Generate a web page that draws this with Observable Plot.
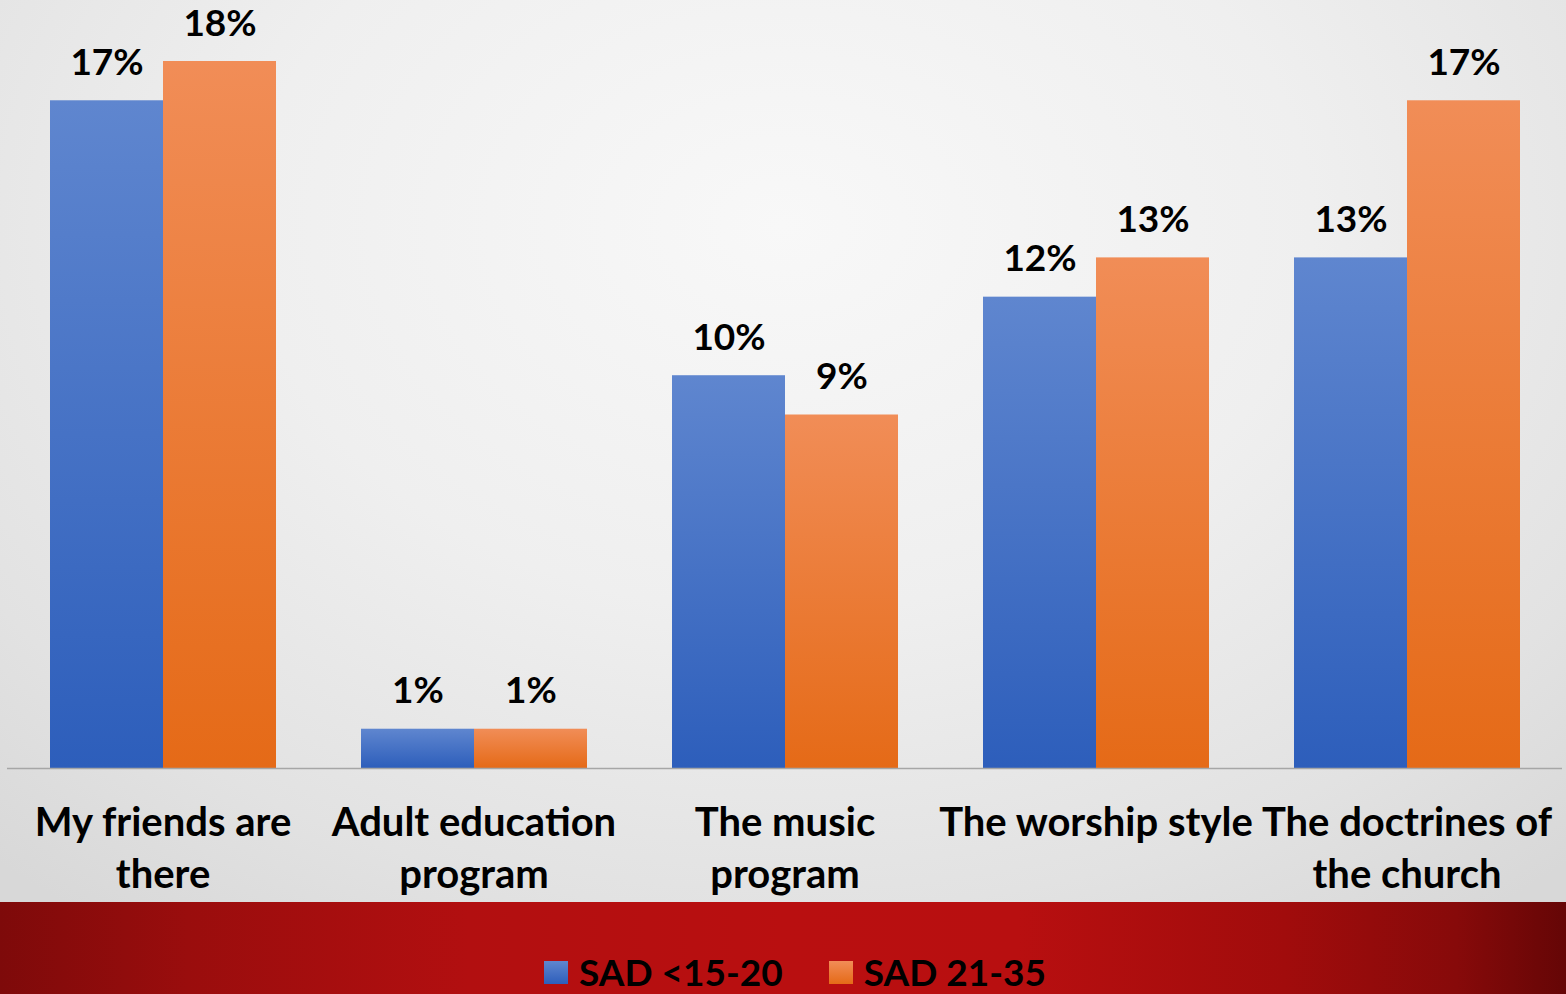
<!DOCTYPE html>
<html><head><meta charset="utf-8">
<script src="https://cdn.jsdelivr.net/npm/d3@7"></script>
<script src="https://cdn.jsdelivr.net/npm/@observablehq/plot@0.6"></script>
<style>
html,body{margin:0;padding:0;width:1566px;height:994px;overflow:hidden;font-family:Lato,"Noto Sans",sans-serif;}
#chart{width:1566px;height:902px;background:radial-gradient(ellipse 75% 95% at 50% 25%, #f8f8f8 0%, #efefef 45%, #e2e2e2 80%, #d8d8d8 100%);}
#band{width:1566px;height:92px;position:relative;background:linear-gradient(to right,#7e0a0a 0%,#9a0d0d 12%,#b20f10 30%,#b90f10 50%,#b80f10 65%,#a10c0c 82%,#870a0a 93%,#650606 100%);}
#legend{position:absolute;left:544px;top:50px;display:flex;align-items:center;font-weight:bold;font-size:37px;color:#000;line-height:40px;}
.item{display:flex;align-items:center;margin-right:46px;}
.sw{width:24px;height:23px;margin-right:11px;}
</style>
</head><body>
<div id="chart"></div>
<div id="band"><div id="legend"></div></div>
<script>
const categories = ["My friends are\nthere", "Adult education\nprogram", "The music\nprogram", "The worship style", "The doctrines of\nthe church"];
const series = ["SAD <15-20", "SAD 21-35"];
const valuesYoung = [17, 1, 10, 12, 13];
const valuesOld = [18, 1, 9, 13, 17];

const gradients = [
  ["gBlue", "#5f86cf", "#2d5ebb"],
  ["gOrange", "#f18d57", "#e56a17"]
];

const data = categories.flatMap((c, i) => [
  {category: c, series: series[0], value: valuesYoung[i]},
  {category: c, series: series[1], value: valuesOld[i]}
]);

const plot = Plot.plot({
  width: 1566,
  height: 902,
  marginLeft: 6,
  marginRight: 4,
  marginTop: 61,
  marginBottom: 134,
  style: {background: "transparent", fontFamily: "Lato, 'Noto Sans', sans-serif", fontWeight: "bold", fontSize: "36px", color: "#000", overflow: "visible"},
  fx: {domain: categories, padding: 0, label: null},
  x: {domain: series, paddingInner: 0, paddingOuter: 0.37, axis: null},
  y: {domain: [0, 18], axis: null},
  marks: [
    Plot.barY(data.filter(d => d.series === series[0]), {fx: "category", x: "series", y: "value", fill: "url(#gBlue)"}),
    Plot.barY(data.filter(d => d.series === series[1]), {fx: "category", x: "series", y: "value", fill: "url(#gOrange)"}),
    Plot.ruleY([0], {stroke: "#a6a6a6", strokeWidth: 1.5}),
    Plot.text(data, {fx: "category", x: "series", y: "value", text: d => d.value + "%", lineAnchor: "bottom", dy: -26, fontSize: 37, fill: "#000"}),
    Plot.axisFx({anchor: "bottom", tickSize: 0, tickPadding: 31, fontSize: 40, lineHeight: 1.3, label: null})
  ]
});

const svg = d3.select(plot);
const defs = svg.insert("defs", ":first-child");
for (const [id, top, bot] of gradients) {
  const g = defs.append("linearGradient").attr("id", id).attr("x1", 0).attr("y1", 0).attr("x2", 0).attr("y2", 1);
  g.append("stop").attr("offset", "0%").attr("stop-color", top);
  g.append("stop").attr("offset", "100%").attr("stop-color", bot);
}
document.getElementById("chart").appendChild(plot);

const legend = d3.select("#legend");
series.forEach((s, i) => {
  const it = legend.append("div").attr("class", "item");
  it.append("div").attr("class", "sw").style("background", `linear-gradient(to bottom, ${gradients[i][1]}, ${gradients[i][2]})`);
  it.append("span").text(s);
});
</script>
</body></html>
